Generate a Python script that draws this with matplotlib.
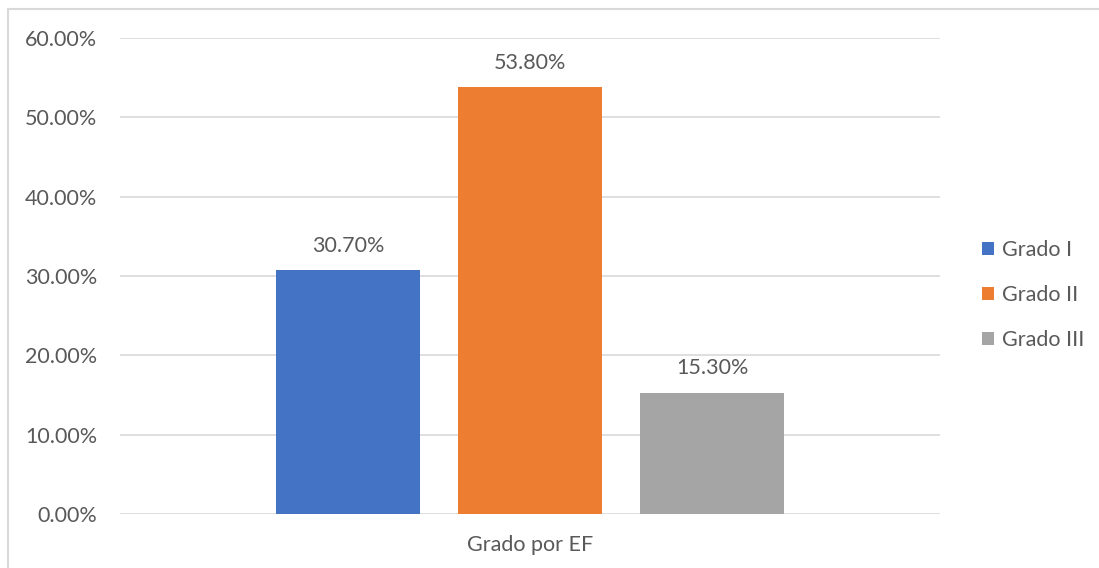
import matplotlib.pyplot as plt
from matplotlib.patches import Rectangle, Patch
from matplotlib.ticker import FuncFormatter

plt.rcParams['font.family'] = ['Lato', 'DejaVu Sans']

grados = ["Grado I", "Grado II", "Grado III"]
porcentajes = [30.7, 53.8, 15.3]
colores = ["#4472C4", "#ED7D31", "#A5A5A5"]
categoria = "Grado por EF"
yticks = [0, 10, 20, 30, 40, 50, 60]

txt = "#595959"
grid = "#D9D9D9"
fs = 15.5

fig = plt.figure(figsize=(10.99, 5.68), dpi=100)
ax = fig.add_axes([120 / 1099, 54 / 568, 820 / 1099, 476 / 568])

pos = [0, 1, 2]
bars = ax.bar(pos, porcentajes, width=0.79, color=colores, zorder=3)
for b, v in zip(bars, porcentajes):
    ax.text(b.get_x() + b.get_width() / 2, v + 1.8, f"{v:.2f}%",
            ha="center", va="bottom", fontsize=fs, color=txt)

ax.set_xlim(1 - 2.2527, 1 + 2.2527)
ax.set_ylim(0, 60)
ax.set_yticks(yticks)
ax.yaxis.set_major_formatter(FuncFormatter(lambda v, _: f"{v:.2f}%"))
ax.set_xticks([1])
ax.set_xticklabels([categoria])
ax.tick_params(axis="both", length=0, labelsize=fs, labelcolor=txt)
ax.tick_params(axis="y", pad=16.5)
ax.tick_params(axis="x", pad=15)
ax.grid(axis="y", color=grid, linewidth=1.2, zorder=0)
for s in ax.spines.values():
    s.set_visible(False)

handles = [Patch(facecolor=c, edgecolor="none") for c in colores]
leg = fig.legend(handles, grados, loc="upper left", bbox_to_anchor=(963 / 1099, 1 - 221 / 568),
                 frameon=False, fontsize=fs, handlelength=0.55, handleheight=0.55,
                 handletextpad=0.35, labelspacing=1.16, labelcolor=txt)

# chart area border
fig.patches.append(Rectangle((8 / 1099, -0.05), 1.2, (568 - 9) / 568 + 0.05,
                             transform=fig.transFigure, fill=False,
                             edgecolor=grid, linewidth=1.5))

fig.savefig("out.png", dpi=100)
